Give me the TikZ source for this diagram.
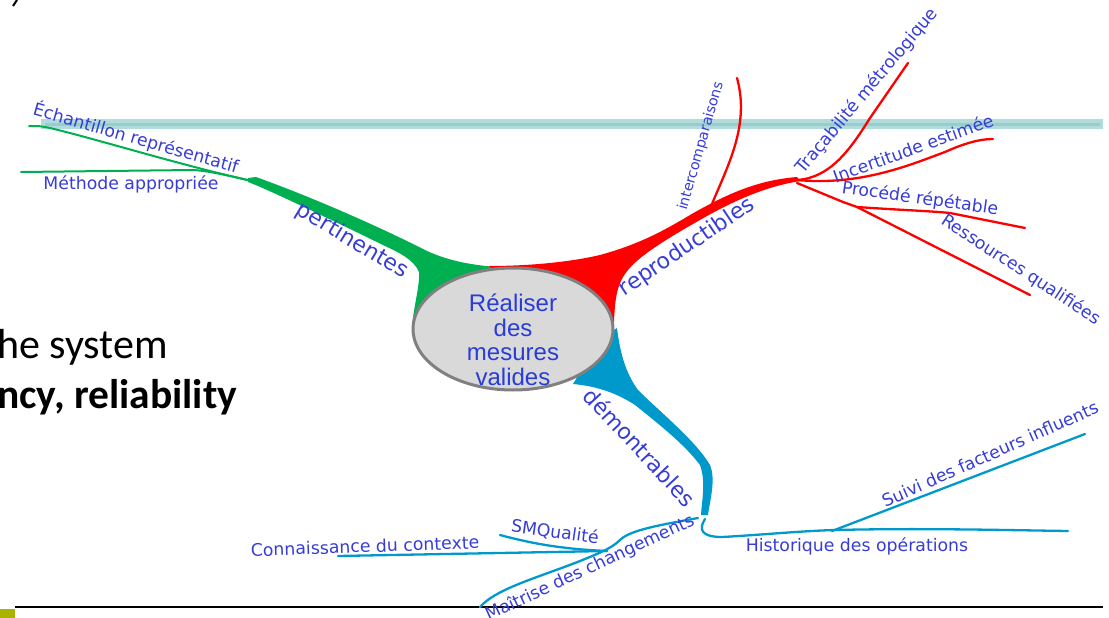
\documentclass[tikz,border=0pt]{standalone}
\usepackage{fontspec}
\setmainfont{DejaVu Sans}
\newfontfamily\arialf{Liberation Sans}
\newfontfamily\calib{Carlito}
\usetikzlibrary{shapes.geometric}
\definecolor{mgreen}{RGB}{0,176,80}
\definecolor{mred}{RGB}{255,0,0}
\definecolor{mblue}{RGB}{0,153,204}
\definecolor{labblue}{RGB}{55,60,215}
\definecolor{cblue}{RGB}{40,60,215}
\definecolor{barteal}{RGB}{178,220,220}
\definecolor{barline}{RGB}{150,205,205}
\definecolor{egray}{RGB}{217,217,217}
\definecolor{eline}{RGB}{128,128,128}
\definecolor{olivec}{RGB}{170,180,0}
\begin{document}
\begin{tikzpicture}[x=1pt,y=-1pt,
  lab/.style={text=labblue,font=\fontsize{17.3}{19}\selectfont,inner sep=0pt},
  biglab/.style={text=labblue,font=\fontsize{22}{25}\selectfont,inner sep=0pt},
  twig/.style={line width=2.3pt,line cap=round},
  gtwig/.style={line width=2pt,line cap=round,draw=mgreen},
  slidetext/.style={anchor=base west,inner sep=0pt,text=black}]
\useasboundingbox (0,0) rectangle (1109,618);
% slide decorations
\fill[barteal] (41,119) rectangle (1103,129);
\draw[barline,line width=3pt] (45,124) -- (1100,124);
\draw[line width=2pt] (13,6) -- (17,0);
\draw[line width=1.3pt] (15,607) -- (1103,607);
\fill[olivec] (0,609) rectangle (15,618);
\node[slidetext,font=\calib\fontsize{42}{48}\selectfont] (s1) at (-3,358) {he system};
\node[slidetext,font=\calib\bfseries\fontsize{41.5}{48}\selectfont] (s2) at (-3,408) {ncy, reliability};
% green branch
\fill[mgreen] (248,178) -- (256,177) .. controls (320,200) and (390,232) .. (425,250) .. controls (450,262) and (475,265) .. (495,267) -- (470,300) -- (412,326) .. controls (414,305) and (420,285) .. (419,272) .. controls (414,260) and (400,253) .. (385,246) .. controls (340,224) and (290,200) .. (258,186) -- (248,182) -- cycle;
\draw[gtwig] (252,181) .. controls (180,165) and (100,140) .. (50,128) .. controls (40,126) .. (29,126);
\draw[gtwig] (252,181) .. controls (230,176) and (210,171) .. (193,170) -- (21,172);
% red branch
\fill[mred] (488,266) .. controls (530,266) and (570,262) .. (600,255) .. controls (640,244) and (665,230) .. (690,215) .. controls (730,192) and (760,180) .. (797,177) -- (800,181) .. controls (770,186) and (740,197) .. (700,220) .. controls (670,237) and (640,255) .. (628,270) .. controls (618,282) and (615,295) .. (614,322) -- (560,300) -- cycle;
\draw[mred,twig] (712,204) .. controls (728,165) and (750,125) .. (737,78);
\draw[mred,twig] (797,180) .. controls (830,178) and (850,150) .. (870,118) -- (908,63);
\draw[mred,twig] (797,180) .. controls (860,186) and (910,165) .. (945,152) .. controls (965,143) and (980,139) .. (993,139);
\draw[mred,twig] (797,183) -- (843,202) -- (857,207) .. controls (900,210) and (930,211) .. (950,213) -- (1025,228);
\draw[mred,twig] (857,207) -- (1030,295);
% blue branch
\fill[mblue] (600,340) -- (617,328) .. controls (620,352) and (625,372) .. (638,390) .. controls (660,412) and (695,440) .. (710,465) .. controls (716,480) and (710,500) .. (708,515) -- (701,515) .. controls (702,498) and (706,482) .. (700,465) .. controls (685,445) and (660,425) .. (635,405) .. controls (615,392) and (595,386) .. (573,384) -- cycle;
\draw[mblue,twig] (705,519) .. controls (698,530) and (702,537) .. (722,537) .. controls (760,535) and (800,531) .. (835,530) .. controls (920,528) and (1000,530) .. (1068,531);
\draw[mblue,twig] (832,531) -- (1085,434);
\draw[mblue,twig] (698,518) .. controls (660,525) and (630,530) .. (620,540) .. controls (612,548) and (600,553) .. (575,563) .. controls (530,580) and (495,590) .. (480,607);
\draw[mblue,twig] (338,556) -- (607,551);
\draw[mblue,twig] (500,535) .. controls (530,543) and (560,549) .. (607,551);
% centre
\node[ellipse,draw=eline,fill=egray,line width=3pt,minimum width=200pt,minimum height=122pt,inner sep=0pt] (core) at (513,329) {};
\node[text=cblue,font=\arialf\fontsize{24}{24.5}\selectfont,align=center,inner sep=0pt] (coretext) at (513,340) {Réaliser\\des\\mesures\\valides};
% labels
\node[lab,rotate=-16] (t1) at (136,138) {Échantillon représentatif};
\node[lab] (t2) at (131,184) {Méthode appropriée};
\node[biglab,rotate=-31] (t3) at (352,241) {pertinentes};
\node[biglab,rotate=34] (t4) at (687,247) {reproductibles};
\node[biglab,rotate=-47] (t5) at (640,447) {démontrables};
\node[lab,font=\fontsize{14.3}{16}\selectfont,rotate=74] (t6) at (701,146) {intercomparaisons};
\node[lab,rotate=50] (t7) at (867,91) {Traçabilité métrologique};
\node[lab,rotate=20] (t8) at (913,148) {Incertitude estimée};
\node[lab,rotate=-8] (t9) at (920,199) {Procédé répétable};
\node[lab,rotate=-33] (t10) at (1021,270) {Ressources qualifiées};
\node[lab,rotate=2] (t11) at (365,546) {Connaissance du contexte};
\node[lab,rotate=-8] (t12) at (555,532) {SMQualité};
\node[lab,rotate=25] (t13) at (590,568) {Maîtrise des changements};
\node[lab] (t14) at (857,546) {Historique des opérations};
\node[lab,rotate=24] (t15) at (990,454) {Suivi des facteurs influents};
\end{tikzpicture}
\end{document}
